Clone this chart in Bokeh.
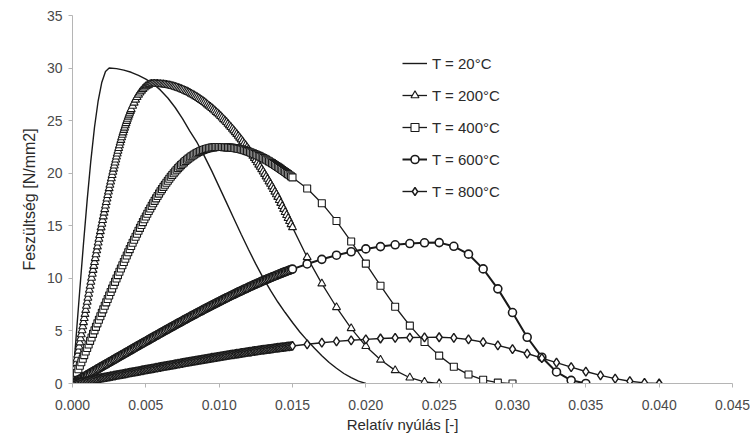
from bokeh.plotting import figure
from bokeh.models import ColumnDataSource, Legend, LegendItem, FixedTicker, NumeralTickFormatter, Range1d
from bokeh.embed import file_html
from bokeh.resources import INLINE

# ---------------- data ----------------
x_ticks = [0.000, 0.005, 0.010, 0.015, 0.020, 0.025, 0.030, 0.035, 0.040, 0.045]
y_ticks = [0, 5, 10, 15, 20, 25, 30, 35]
series_labels = ["T = 20°C", "T = 200°C", "T = 400°C", "T = 600°C", "T = 800°C"]

# T = 20 °C (line only)
strain_20 = [0.0, 0.00025, 0.0005, 0.00075, 0.001, 0.00125, 0.0015, 0.00175, 0.002, 0.00225,
             0.0025, 0.003, 0.0035, 0.004, 0.0045, 0.005, 0.0055, 0.006, 0.0065, 0.007,
             0.0075, 0.008, 0.0085, 0.009, 0.0095, 0.010, 0.0105, 0.011, 0.0115, 0.012,
             0.0125, 0.013, 0.0135, 0.014, 0.0145, 0.015, 0.0155, 0.016, 0.0165, 0.017,
             0.0175, 0.018, 0.0185, 0.019, 0.0195, 0.020]
stress_20 = [0.0, 4.50, 8.96, 13.32, 17.44, 21.18, 24.37, 26.89, 28.66, 29.68,
             30.0, 29.95, 29.8, 29.6, 29.3, 28.95, 28.5, 27.9, 27.15, 26.25,
             25.2, 24.0, 22.9, 21.6, 20.2, 18.7, 17.2, 15.7, 14.2, 12.75,
             11.35, 10.05, 8.85, 7.75, 6.75, 5.8, 4.9, 4.1, 3.35, 2.65,
             2.0, 1.45, 0.95, 0.55, 0.22, 0.0]

# dense sampling of the first part of the marked curves (strain 0 ... 0.015)
strain_fine = [
    0.0000, 0.0001, 0.0002, 0.0003, 0.0004, 0.0005, 0.0006, 0.0007, 0.0008, 0.0009,
    0.0010, 0.0011, 0.0012, 0.0013, 0.0014, 0.0015, 0.0016, 0.0017, 0.0018, 0.0019,
    0.0020, 0.0021, 0.0022, 0.0023, 0.0024, 0.0025, 0.0026, 0.0027, 0.0028, 0.0029,
    0.0030, 0.0031, 0.0032, 0.0033, 0.0034, 0.0035, 0.0036, 0.0037, 0.0038, 0.0039,
    0.0040, 0.0041, 0.0042, 0.0043, 0.0044, 0.0045, 0.0046, 0.0047, 0.0048, 0.0049,
    0.0050, 0.0051, 0.0052, 0.0053, 0.0054, 0.0055, 0.0056, 0.0057, 0.0058, 0.0059,
    0.0060, 0.0061, 0.0062, 0.0063, 0.0064, 0.0065, 0.0066, 0.0067, 0.0068, 0.0069,
    0.0070, 0.0071, 0.0072, 0.0073, 0.0074, 0.0075, 0.0076, 0.0077, 0.0078, 0.0079,
    0.0080, 0.0081, 0.0082, 0.0083, 0.0084, 0.0085, 0.0086, 0.0087, 0.0088, 0.0089,
    0.0090, 0.0091, 0.0092, 0.0093, 0.0094, 0.0095, 0.0096, 0.0097, 0.0098, 0.0099,
    0.0100, 0.0101, 0.0102, 0.0103, 0.0104, 0.0105, 0.0106, 0.0107, 0.0108, 0.0109,
    0.0110, 0.0111, 0.0112, 0.0113, 0.0114, 0.0115, 0.0116, 0.0117, 0.0118, 0.0119,
    0.0120, 0.0121, 0.0122, 0.0123, 0.0124, 0.0125, 0.0126, 0.0127, 0.0128, 0.0129,
    0.0130, 0.0131, 0.0132, 0.0133, 0.0134, 0.0135, 0.0136, 0.0137, 0.0138, 0.0139,
    0.0140, 0.0141, 0.0142, 0.0143, 0.0144, 0.0145, 0.0146, 0.0147, 0.0148, 0.0149,
    0.0150]

# T = 200 °C
stress_200_fine = [
    0.00, 0.78, 1.55, 2.33, 3.11, 3.89, 4.66, 5.43, 6.21, 6.98,
    7.75, 8.52, 9.28, 10.04, 10.79, 11.54, 12.28, 13.02, 13.75, 14.47,
    15.18, 15.88, 16.57, 17.25, 17.91, 18.56, 19.20, 19.81, 20.42, 21.00,
    21.57, 22.12, 22.64, 23.15, 23.64, 24.10, 24.54, 24.96, 25.36, 25.73,
    26.08, 26.40, 26.70, 26.98, 27.23, 27.46, 27.66, 27.84, 28.00, 28.14,
    28.25, 28.34, 28.41, 28.46, 28.49, 28.50, 28.50, 28.49, 28.49, 28.48,
    28.47, 28.45, 28.44, 28.42, 28.40, 28.38, 28.35, 28.32, 28.28, 28.25,
    28.21, 28.16, 28.11, 28.06, 28.01, 27.96, 27.90, 27.83, 27.77, 27.70,
    27.63, 27.55, 27.47, 27.39, 27.31, 27.23, 27.13, 27.04, 26.94, 26.85,
    26.75, 26.64, 26.53, 26.41, 26.30, 26.19, 26.06, 25.94, 25.81, 25.69,
    25.56, 25.42, 25.28, 25.13, 24.99, 24.85, 24.69, 24.53, 24.38, 24.22,
    24.06, 23.89, 23.72, 23.54, 23.37, 23.20, 23.01, 22.82, 22.64, 22.45,
    22.26, 22.06, 21.85, 21.65, 21.44, 21.24, 21.02, 20.80, 20.59, 20.37,
    20.15, 19.92, 19.68, 19.45, 19.21, 18.98, 18.73, 18.48, 18.23, 17.98,
    17.73, 17.44, 17.16, 16.87, 16.59, 16.30, 16.01, 15.72, 15.43, 15.14,
    14.85]
# extra readings on the steep rising branch (between the 0.0001 steps)
strain_200_extra = [
    0.00005, 0.00015, 0.00025, 0.00035, 0.00045, 0.00055, 0.00065, 0.00075, 0.00085, 0.00095,
    0.00105, 0.00115, 0.00125, 0.00135, 0.00145, 0.00155, 0.00165, 0.00175, 0.00185, 0.00195,
    0.00205, 0.00215, 0.00225, 0.00235, 0.00245, 0.00255, 0.00265, 0.00275, 0.00285, 0.00295,
    0.00305, 0.00315, 0.00325, 0.00335, 0.00345, 0.00355, 0.00365, 0.00375, 0.00385, 0.00395]
stress_200_extra = [
    0.39, 1.17, 1.94, 2.72, 3.50, 4.28, 5.05, 5.82, 6.60, 7.37,
    8.14, 8.90, 9.66, 10.42, 11.17, 11.91, 12.65, 13.39, 14.11, 14.83,
    15.53, 16.23, 16.91, 17.58, 18.24, 18.88, 19.51, 20.12, 20.71, 21.29,
    21.85, 22.38, 22.90, 23.40, 23.87, 24.32, 24.75, 25.16, 25.55, 25.91]
strain_200_tail = [0.016, 0.017, 0.018, 0.019, 0.020, 0.021, 0.022, 0.023, 0.024, 0.025]
stress_200_tail = [12.0, 9.5, 7.25, 5.25, 3.55, 2.25, 1.25, 0.55, 0.15, 0.0]

# T = 400 °C
stress_400_fine = [
    0.00, 0.34, 0.68, 1.01, 1.35, 1.69, 2.02, 2.36, 2.70, 3.04,
    3.37, 3.71, 4.05, 4.38, 4.72, 5.05, 5.39, 5.72, 6.06, 6.39,
    6.72, 7.05, 7.39, 7.72, 8.04, 8.37, 8.70, 9.02, 9.35, 9.67,
    9.99, 10.31, 10.63, 10.94, 11.25, 11.56, 11.87, 12.18, 12.48, 12.78,
    13.08, 13.38, 13.67, 13.96, 14.24, 14.53, 14.80, 15.08, 15.35, 15.62,
    15.88, 16.14, 16.40, 16.65, 16.89, 17.14, 17.37, 17.61, 17.84, 18.06,
    18.28, 18.49, 18.70, 18.90, 19.10, 19.29, 19.48, 19.66, 19.83, 20.00,
    20.17, 20.33, 20.48, 20.63, 20.77, 20.90, 21.03, 21.16, 21.28, 21.39,
    21.50, 21.60, 21.69, 21.78, 21.87, 21.95, 22.02, 22.09, 22.15, 22.21,
    22.26, 22.31, 22.35, 22.38, 22.42, 22.44, 22.46, 22.48, 22.49, 22.50,
    22.50, 22.50, 22.49, 22.48, 22.47, 22.46, 22.45, 22.44, 22.43, 22.41,
    22.40, 22.38, 22.36, 22.33, 22.30, 22.27, 22.23, 22.19, 22.15, 22.10,
    22.05, 22.00, 21.95, 21.89, 21.83, 21.77, 21.71, 21.65, 21.58, 21.52,
    21.45, 21.37, 21.29, 21.21, 21.13, 21.04, 20.96, 20.87, 20.78, 20.69,
    20.60, 20.51, 20.41, 20.31, 20.21, 20.11, 20.01, 19.91, 19.81, 19.70,
    19.60]
strain_400_tail = [0.016, 0.017, 0.018, 0.019, 0.020, 0.021, 0.022, 0.023, 0.024, 0.025,
                   0.026, 0.027, 0.028, 0.029, 0.030]
stress_400_tail = [18.55, 17.15, 15.45, 13.5, 11.4, 9.3, 7.3, 5.5, 3.95, 2.65,
                   1.6, 0.85, 0.35, 0.08, 0.0]

# T = 600 °C
stress_600_fine = [
    0.00, 0.08, 0.16, 0.24, 0.32, 0.40, 0.48, 0.56, 0.64, 0.72,
    0.80, 0.88, 0.96, 1.04, 1.13, 1.21, 1.29, 1.37, 1.45, 1.53,
    1.61, 1.69, 1.77, 1.85, 1.93, 2.01, 2.09, 2.17, 2.25, 2.33,
    2.41, 2.49, 2.57, 2.65, 2.73, 2.81, 2.89, 2.97, 3.05, 3.13,
    3.21, 3.29, 3.37, 3.45, 3.53, 3.61, 3.69, 3.77, 3.85, 3.93,
    4.00, 4.08, 4.16, 4.24, 4.32, 4.40, 4.48, 4.56, 4.63, 4.71,
    4.79, 4.87, 4.95, 5.03, 5.10, 5.18, 5.26, 5.34, 5.41, 5.49,
    5.57, 5.65, 5.72, 5.80, 5.87, 5.95, 6.03, 6.11, 6.18, 6.26,
    6.33, 6.41, 6.48, 6.56, 6.63, 6.71, 6.78, 6.85, 6.92, 7.00,
    7.07, 7.15, 7.22, 7.29, 7.36, 7.44, 7.51, 7.58, 7.65, 7.72,
    7.79, 7.86, 7.93, 8.00, 8.07, 8.14, 8.21, 8.28, 8.35, 8.42,
    8.48, 8.55, 8.62, 8.69, 8.75, 8.82, 8.88, 8.95, 9.01, 9.08,
    9.14, 9.21, 9.27, 9.34, 9.40, 9.46, 9.52, 9.58, 9.64, 9.71,
    9.77, 9.83, 9.89, 9.95, 10.00, 10.06, 10.12, 10.18, 10.23, 10.29,
    10.35, 10.41, 10.46, 10.52, 10.57, 10.63, 10.68, 10.73, 10.78, 10.83,
    10.88]
strain_600_tail = [0.016, 0.017, 0.018, 0.019, 0.020, 0.021, 0.022, 0.023, 0.024, 0.025,
                   0.026, 0.027, 0.028, 0.029, 0.030, 0.031, 0.032, 0.033, 0.034, 0.035]
stress_600_tail = [11.37, 11.81, 12.20, 12.53, 12.80, 13.02, 13.19, 13.31, 13.38, 13.40,
                   13.05, 12.3, 10.9, 9.0, 6.75, 4.4, 2.5, 1.1, 0.3, 0.0]

# T = 800 °C
stress_800_fine = [
    0.00, 0.03, 0.05, 0.08, 0.11, 0.13, 0.16, 0.18, 0.21, 0.24,
    0.26, 0.29, 0.32, 0.34, 0.37, 0.40, 0.42, 0.45, 0.48, 0.50,
    0.53, 0.55, 0.58, 0.61, 0.63, 0.66, 0.69, 0.71, 0.74, 0.76,
    0.79, 0.82, 0.84, 0.87, 0.90, 0.92, 0.95, 0.97, 1.00, 1.03,
    1.05, 1.08, 1.11, 1.13, 1.16, 1.18, 1.21, 1.24, 1.26, 1.29,
    1.31, 1.34, 1.37, 1.39, 1.42, 1.44, 1.47, 1.50, 1.52, 1.55,
    1.57, 1.60, 1.63, 1.65, 1.67, 1.70, 1.73, 1.75, 1.78, 1.80,
    1.83, 1.85, 1.88, 1.90, 1.93, 1.95, 1.98, 2.00, 2.03, 2.05,
    2.08, 2.10, 2.13, 2.15, 2.18, 2.20, 2.23, 2.25, 2.27, 2.30,
    2.32, 2.35, 2.37, 2.40, 2.42, 2.45, 2.47, 2.49, 2.51, 2.54,
    2.56, 2.58, 2.60, 2.63, 2.65, 2.67, 2.70, 2.72, 2.74, 2.76,
    2.78, 2.81, 2.83, 2.85, 2.87, 2.90, 2.92, 2.94, 2.96, 2.98,
    3.00, 3.02, 3.04, 3.07, 3.09, 3.11, 3.13, 3.15, 3.17, 3.19,
    3.21, 3.23, 3.25, 3.27, 3.28, 3.30, 3.32, 3.34, 3.36, 3.38,
    3.40, 3.42, 3.43, 3.45, 3.47, 3.49, 3.51, 3.53, 3.54, 3.56,
    3.57]
strain_800_tail = [0.016, 0.017, 0.018, 0.019, 0.020, 0.021, 0.022, 0.023, 0.024, 0.025,
                   0.026, 0.027, 0.028, 0.029, 0.030, 0.031, 0.032, 0.033, 0.034, 0.035,
                   0.036, 0.037, 0.038, 0.039, 0.040]
stress_800_tail = [3.73, 3.88, 4.01, 4.11, 4.20, 4.28, 4.33, 4.37, 4.39, 4.40,
                   4.34, 4.19, 3.94, 3.63, 3.26, 2.85, 2.42, 1.98, 1.55, 1.14,
                   0.77, 0.46, 0.22, 0.06, 0.0]

# ---------------- figure ----------------
FONT = "Liberation Sans"
INK = "#1a1a1a"

p = figure(width=750, height=445, output_backend="svg", toolbar_location=None,
           x_range=Range1d(0, 0.045), y_range=Range1d(0, 35),
           min_border_left=72, min_border_right=18, min_border_top=15, min_border_bottom=62)
p.outline_line_color = None
p.grid.visible = False
p.background_fill_color = "white"
p.border_fill_color = "white"

for ax in (p.xaxis[0], p.yaxis[0]):
    ax.axis_line_color = "#b5b5b5"
    ax.major_tick_line_color = "#b5b5b5"
    ax.minor_tick_line_color = None
    ax.major_tick_out = 4
    ax.major_tick_in = 0
    ax.major_label_text_font = FONT
    ax.major_label_text_font_size = "14px"
    ax.major_label_text_color = "#4a4a4a"
    ax.axis_label_text_font = FONT
    ax.axis_label_text_font_style = "normal"
    ax.axis_label_text_color = "#2b2b2b"

p.xaxis.ticker = FixedTicker(ticks=x_ticks)
p.xaxis.formatter = NumeralTickFormatter(format="0.000")
p.xaxis.major_label_standoff = 12
p.xaxis.axis_label = "Relatív nyúlás [-]"
p.xaxis.axis_label_text_font_size = "15px"
p.xaxis.axis_label_standoff = 3

p.yaxis.ticker = FixedTicker(ticks=y_ticks)
p.yaxis.major_label_standoff = 6
p.yaxis.axis_label = "Feszültség [N/mm2]"
p.yaxis.axis_label_text_font_size = "16px"
p.yaxis.axis_label_standoff = 6

items = []

# 20 °C
src20 = ColumnDataSource(dict(x=strain_20, y=stress_20))
r20 = p.line("x", "y", source=src20, line_color=INK, line_width=1.4)
items.append(LegendItem(label=series_labels[0], renderers=[r20]))


def add_series(xs, ys, marker, size, mlw, llw, label):
    pts = sorted(zip(xs, ys))
    src = ColumnDataSource(dict(x=[a for a, _ in pts], y=[b for _, b in pts]))
    ln = p.line("x", "y", source=src, line_color=INK, line_width=llw)
    sc = p.scatter("x", "y", source=src, marker=marker, size=size,
                   fill_color="white", line_color=INK, line_width=mlw)
    items.append(LegendItem(label=label, renderers=[ln, sc]))


add_series(strain_fine + strain_200_extra + strain_200_tail,
           stress_200_fine + stress_200_extra + stress_200_tail,
           "triangle", 8, 1.1, 1.3, series_labels[1])
add_series(strain_fine + strain_400_tail, stress_400_fine + stress_400_tail,
           "square", 7, 1.1, 1.3, series_labels[2])
add_series(strain_fine + strain_600_tail, stress_600_fine + stress_600_tail,
           "circle", 8, 1.6, 2.0, series_labels[3])
add_series(strain_fine + strain_800_tail, stress_800_fine + stress_800_tail,
           "diamond", 9, 1.4, 1.4, series_labels[4])

legend = Legend(items=items, location=(330, 182), orientation="vertical",
                border_line_color=None, background_fill_alpha=0,
                padding=0, margin=0, spacing=12,
                glyph_width=25, glyph_height=20, label_height=20, label_standoff=5,
                label_text_font=FONT, label_text_font_size="15px", label_text_color="#2b2b2b")
p.add_layout(legend)

open("out.html", "w").write(file_html(p, INLINE))
